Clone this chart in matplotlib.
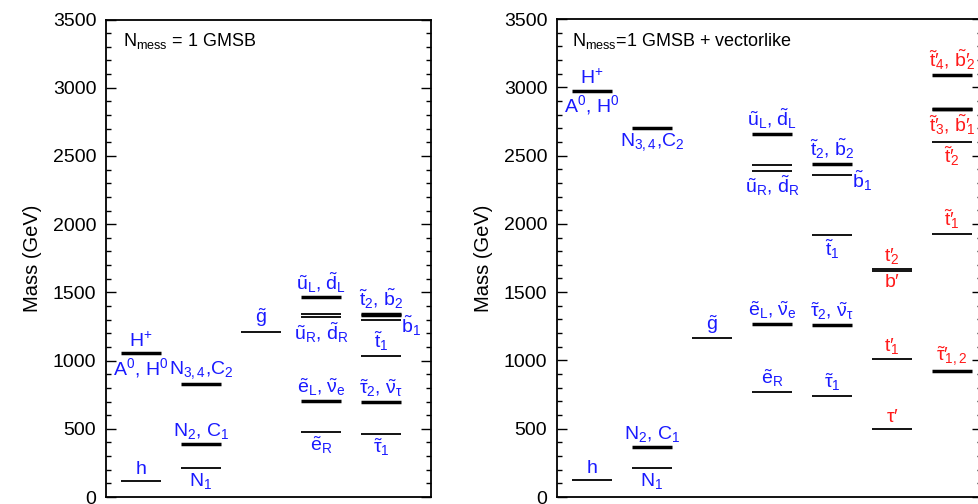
import matplotlib.pyplot as plt

plt.rcParams['font.family'] = ['Liberation Sans', 'DejaVu Sans']
plt.rcParams['mathtext.fontset'] = 'custom'
plt.rcParams['mathtext.rm'] = 'Liberation Sans'
plt.rcParams['mathtext.it'] = 'Liberation Sans:italic'
plt.rcParams['mathtext.bf'] = 'Liberation Sans:bold'

BLUE = '#1a1aff'
RED = '#ff1a1a'
P = '{\\rm \u2032}'       # full-size prime glyph
K = '\\!{}'               # pull the subscript back a little under the prime

# ---- left panel: N_mess = 1 GMSB ----
left_col = [0, 0, 1, 1, 1, 2, 3, 3, 3, 3, 3, 4, 4, 4, 4, 4, 4]
left_mass = [118, 1054, 210, 391, 827, 1208, 1463, 1345, 1316, 704, 477,
             1345, 1333, 1300, 1037, 699, 464]
left_bold = [0, 1, 0, 1, 1, 0, 1, 0, 0, 1, 0, 1, 1, 0, 0, 1, 0]

left_lab_text = [r'h', r'H$^{+}$', r'A$^{0}$, H$^{0}$',
                 r'N$_{1}$', r'N$_{2}$, C$_{1}$', r'N$_{3,4}$,C$_{2}$',
                 r'$\tilde{\rm g}$',
                 r'$\tilde{\rm u}_{\rm L}$, $\tilde{\rm d}_{\rm L}$',
                 r'$\tilde{\rm u}_{\rm R}$, $\tilde{\rm d}_{\rm R}$',
                 r'$\tilde{\rm e}_{\rm L}$, $\tilde{\rm \nu}_{\rm e}$',
                 r'$\tilde{\rm e}_{\rm R}$',
                 r'$\tilde{\rm t}_{2}$, $\tilde{\rm b}_{2}$',
                 r'$\tilde{\rm b}_{1}$',
                 r'$\tilde{\rm t}_{1}$',
                 r'$\tilde{\rm \tau}_{2}$, $\tilde{\rm \nu}_{\rm \tau}$',
                 r'$\tilde{\rm \tau}_{1}$']
left_lab_col = [0, 0, 0, 1, 1, 1, 2, 3, 3, 3, 3, 4, 4, 4, 4, 4]
left_lab_mass = [118, 1054, 1054, 210, 391, 827, 1208, 1463, 1316, 704, 477,
                 1345, 1300, 1037, 699, 464]
left_lab_pos = ['above', 'above', 'below', 'below', 'above', 'above', 'above',
                'above', 'below', 'above', 'below', 'above', 'right', 'above',
                'above', 'below']
left_lab_color = [BLUE] * 16

# ---- right panel: N_mess = 1 GMSB + vectorlike ----
right_col = [0, 0, 1, 1, 1, 2, 3, 3, 3, 3, 3, 4, 4, 4, 4, 4,
             5, 5, 5, 5, 6, 6, 6, 6, 6, 6]
right_mass = [127, 2975, 212, 368, 2702, 1162, 2660, 2433, 2389, 1267, 769,
              2440, 2355, 1918, 1259, 742,
              1671, 1656, 1013, 498, 3092, 2843, 2839, 2602, 1926, 923]
right_bold = [0, 1, 0, 1, 1, 0, 1, 0, 0, 1, 0, 1, 0, 0, 1, 0,
              0, 0, 0, 0, 1, 1, 1, 0, 0, 1]

right_lab_text = [r'h', r'H$^{+}$', r'A$^{0}$, H$^{0}$',
                  r'N$_{1}$', r'N$_{2}$, C$_{1}$', r'N$_{3,4}$,C$_{2}$',
                  r'$\tilde{\rm g}$',
                  r'$\tilde{\rm u}_{\rm L}$, $\tilde{\rm d}_{\rm L}$',
                  r'$\tilde{\rm u}_{\rm R}$, $\tilde{\rm d}_{\rm R}$',
                  r'$\tilde{\rm e}_{\rm L}$, $\tilde{\rm \nu}_{\rm e}$',
                  r'$\tilde{\rm e}_{\rm R}$',
                  r'$\tilde{\rm t}_{2}$, $\tilde{\rm b}_{2}$',
                  r'$\tilde{\rm b}_{1}$',
                  r'$\tilde{\rm t}_{1}$',
                  r'$\tilde{\rm \tau}_{2}$, $\tilde{\rm \nu}_{\rm \tau}$',
                  r'$\tilde{\rm \tau}_{1}$',
                  '${\\rm t}' + P + K + '_{2}$', '${\\rm b}' + P + '$',
                  '${\\rm t}' + P + K + '_{1}$', '${\\rm \\tau}' + P + '$',
                  '$\\tilde{\\rm t}' + P + K + '_{4}$, $\\tilde{\\rm b}' + P + K + '_{2}$',
                  '$\\tilde{\\rm t}' + P + K + '_{3}$, $\\tilde{\\rm b}' + P + K + '_{1}$',
                  '$\\tilde{\\rm t}' + P + K + '_{2}$',
                  '$\\tilde{\\rm t}' + P + K + '_{1}$',
                  '$\\tilde{\\rm \\tau}' + P + K + '_{1,2}$']
right_lab_col = [0, 0, 0, 1, 1, 1, 2, 3, 3, 3, 3, 4, 4, 4, 4, 4,
                 5, 5, 5, 5, 6, 6, 6, 6, 6]
right_lab_mass = [127, 2975, 2975, 212, 368, 2702, 1162, 2660, 2389, 1267, 769,
                  2440, 2355, 1918, 1259, 742,
                  1671, 1656, 1013, 498, 3092, 2839, 2602, 1926, 923]
right_lab_pos = ['above', 'above', 'below', 'below', 'above', 'below', 'above',
                 'above', 'below', 'above', 'above', 'above', 'right', 'below',
                 'above', 'above', 'above', 'below', 'above', 'above',
                 'above', 'below', 'below', 'above', 'above']
right_lab_color = [BLUE] * 16 + [RED] * 9

COL_W = 0.667
COL_X0 = 0.25


def draw_panel(ax, cols, masses, bolds, lab_text, lab_col, lab_mass, lab_pos,
               lab_color, title, xmax):
    for c, m, b in zip(cols, masses, bolds):
        x0 = COL_X0 + c
        ax.plot([x0, x0 + COL_W], [m, m], color='black',
                lw=2.5 if b else 1.3, solid_capstyle='butt')
    for t, c, m, p, col in zip(lab_text, lab_col, lab_mass, lab_pos, lab_color):
        xc = COL_X0 + c + COL_W / 2
        if p == 'above':
            ax.annotate(t, (xc, m), xytext=(0, 2), textcoords='offset points',
                        ha='center', va='bottom', color=col, fontsize=14)
        elif p == 'below':
            ax.annotate(t, (xc, m), xytext=(0, -2), textcoords='offset points',
                        ha='center', va='top', color=col, fontsize=14)
        else:
            ax.annotate(t, (COL_X0 + c + COL_W, m), xytext=(0, -4),
                        textcoords='offset points',
                        ha='left', va='center', color=col, fontsize=14)
    ax.set_xlim(0, xmax)
    ax.set_ylim(0, 3500)
    ax.set_xticks([])
    ax.set_yticks(range(0, 3501, 500))
    ax.set_yticks(range(0, 3501, 100), minor=True)
    ax.tick_params(axis='y', which='both', direction='in', right=True,
                   labelsize=14, pad=7)
    ax.tick_params(axis='y', which='major', length=7, width=1)
    ax.tick_params(axis='y', which='minor', length=3.5, width=1)
    for s in ax.spines.values():
        s.set_linewidth(1.3)
    ax.set_ylabel('Mass (GeV)', fontsize=14.5, labelpad=8)
    ax.text(0.052, 0.975, title, transform=ax.transAxes, ha='left', va='top',
            fontsize=13)


fig = plt.figure(figsize=(9.79, 5.04), dpi=100)
ax1 = fig.add_axes([106 / 979, 7 / 504, 325 / 979, 477.5 / 504])
ax2 = fig.add_axes([557 / 979, 7 / 504, 425 / 979, 478 / 504])

draw_panel(ax1, left_col, left_mass, left_bold, left_lab_text, left_lab_col,
           left_lab_mass, left_lab_pos, left_lab_color,
           r'N$_{\rm mess}$ = 1 GMSB', 325 / 60)
draw_panel(ax2, right_col, right_mass, right_bold, right_lab_text, right_lab_col,
           right_lab_mass, right_lab_pos, right_lab_color,
           r'N$_{\rm mess}$=1 GMSB + vectorlike', 425 / 60)
ax2.texts[-1].set_x(0.036)

fig.savefig('out.png', dpi=100)
